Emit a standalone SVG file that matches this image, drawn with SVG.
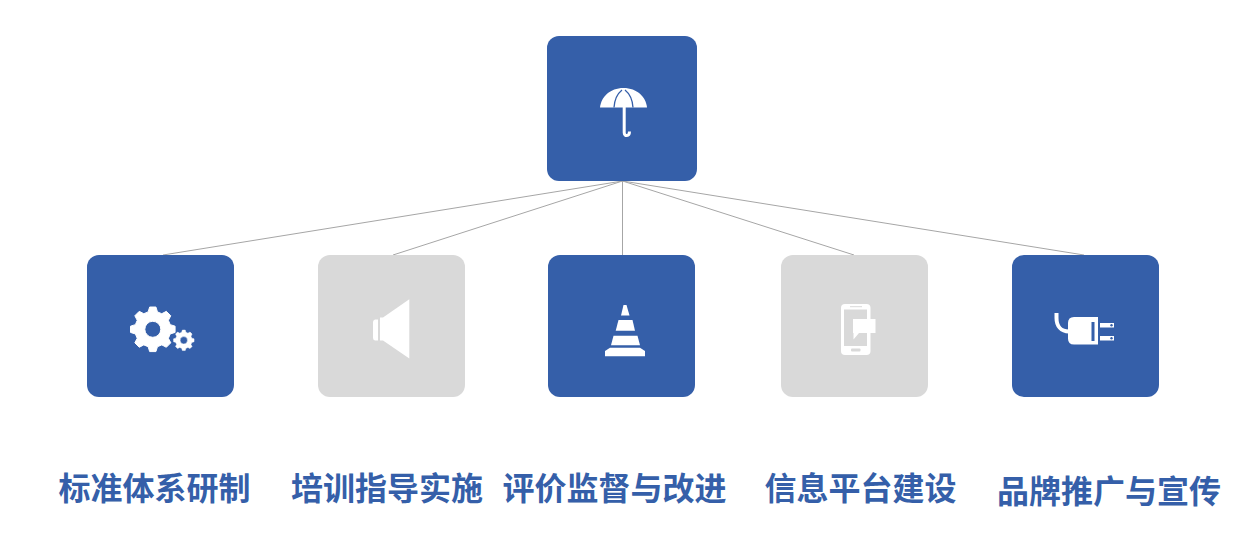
<svg xmlns="http://www.w3.org/2000/svg" width="1259" height="556" viewBox="0 0 1259 556">
<style>
.blue{fill:#355fa9}
.gray{fill:#d9d9d9}
.w{fill:#fff}
.link{stroke:#a6a6a6;stroke-width:1;fill:none}
.gear{fill:#fff;fill-rule:evenodd;stroke:#fff;stroke-width:1;stroke-linejoin:round}
.label{font-family:"Noto Sans CJK SC","Liberation Sans",sans-serif;font-size:32px;font-weight:700;fill:#355fa9}
</style>
<defs>
<path id="gear" class="gear" d="M17.39 -4.66L22.28 -3.13L22.28 3.13L17.39 4.66L15.59 9L17.97 13.54L13.54 17.97L9 15.59L4.66 17.39L3.13 22.28L-3.13 22.28L-4.66 17.39L-9 15.59L-13.54 17.97L-17.97 13.54L-15.59 9L-17.39 4.66L-22.28 3.13L-22.28 -3.13L-17.39 -4.66L-15.59 -9L-17.97 -13.54L-13.54 -17.97L-9 -15.59L-4.66 -17.39L-3.13 -22.28L3.13 -22.28L4.66 -17.39L9 -15.59L13.54 -17.97L17.97 -13.54L15.59 -9ZM8 0A8 8 0 1 0 -8 0A8 8 0 1 0 8 0Z"/>
</defs>
<rect width="1259" height="556" fill="#fff"/>
<g id="connectors">
<line class="link" x1="622.5" y1="181" x2="163" y2="255"/>
<line class="link" x1="622.5" y1="181" x2="393" y2="255"/>
<line class="link" x1="622.5" y1="181" x2="622.5" y2="255"/>
<line class="link" x1="622.5" y1="181" x2="854" y2="255"/>
<line class="link" x1="622.5" y1="181" x2="1084" y2="255"/>
</g>
<g id="node-root">
<rect class="blue" x="547" y="36" width="150" height="145" rx="12"/>
<path class="w" d="M623.5 88C610 88 601 97 600 107.5H647C646 97 637 88 623.5 88Z"/>
<path d="M622 90C617 94 614.5 100 614 107.5M625 90C630 94 632.5 100 633 107.5" fill="none" stroke="#355fa9" stroke-width="1.3"/>
<path d="M624.2 107V132.5C624.2 136.8 629.5 136.8 629.5 131.5" fill="none" stroke="#fff" stroke-width="3"/>
</g>
<g id="node-standard">
<rect class="blue" x="87" y="255" width="147" height="142" rx="12"/>
<use href="#gear" transform="translate(152.8 329.3)"/>
<use href="#gear" transform="translate(183.8 340.3) scale(.46)"/>
</g>
<g id="node-training">
<rect class="gray" x="318" y="255" width="147" height="142" rx="12"/>
<path class="w" d="M380 317.5H383L409.3 299.3V358.5L383 340.5H380Z"/>
<path class="w" d="M378 319.5V340.5H375Q373 340 373 338V322Q373 320 375 319.5Z"/>
</g>
<g id="node-evaluation">
<rect class="blue" x="548" y="255" width="147" height="142" rx="12"/>
<path class="w" d="M623.5 305H626.5L629.5 315.5H621Z"/>
<path class="w" d="M618.5 320H632.5L635 330.7H615.7Z"/>
<path class="w" d="M613.5 335.7H637.5L640 345.2H611Z"/>
<path class="w" d="M610 347.7H640L645 351V356.3H605V351Z"/>
</g>
<g id="node-platform">
<rect class="gray" x="781" y="255" width="147" height="142" rx="12"/>
<rect class="w" x="841" y="304" width="29.5" height="51" rx="4"/>
<rect class="gray" x="844" y="309.5" width="23" height="36.500"/>
<rect class="gray" x="851" y="348.5" width="9.5" height="3" rx="1"/>
<rect class="gray" x="850" y="306.2" width="12" height="1"/>
<path class="w" d="M853 319H875.5V333H859L853.5 339.5V333H853Z"/>
</g>
<g id="node-brand">
<rect class="blue" x="1012" y="255" width="147" height="142" rx="12"/>
<path d="M1056.5 313V318C1056.5 326 1061 331.5 1069 331.5" fill="none" stroke="#fff" stroke-width="4"/>
<path class="w" d="M1074 317H1098V344.5H1074Q1068 344.5 1068 338.5V323Q1068 317 1074 317Z"/>
<rect class="blue" x="1091.5" y="322" width="3" height="19"/>
<rect class="w" x="1100" y="323" width="14" height="4.5"/>
<rect class="w" x="1100" y="336" width="14" height="4.5"/>
<circle class="blue" cx="1111.5" cy="325.2" r="1.2"/>
<circle class="blue" cx="1111.5" cy="338.2" r="1.2"/>
</g>
<g id="labels">
<text class="label" x="58.5" y="499.5">标准体系研制</text>
<text class="label" x="291" y="499.5">培训指导实施</text>
<text class="label" x="502.5" y="499.5">评价监督与改进</text>
<text class="label" x="764.5" y="499.5">信息平台建设</text>
<text class="label" x="997" y="502.5">品牌推广与宣传</text>
</g>
</svg>
